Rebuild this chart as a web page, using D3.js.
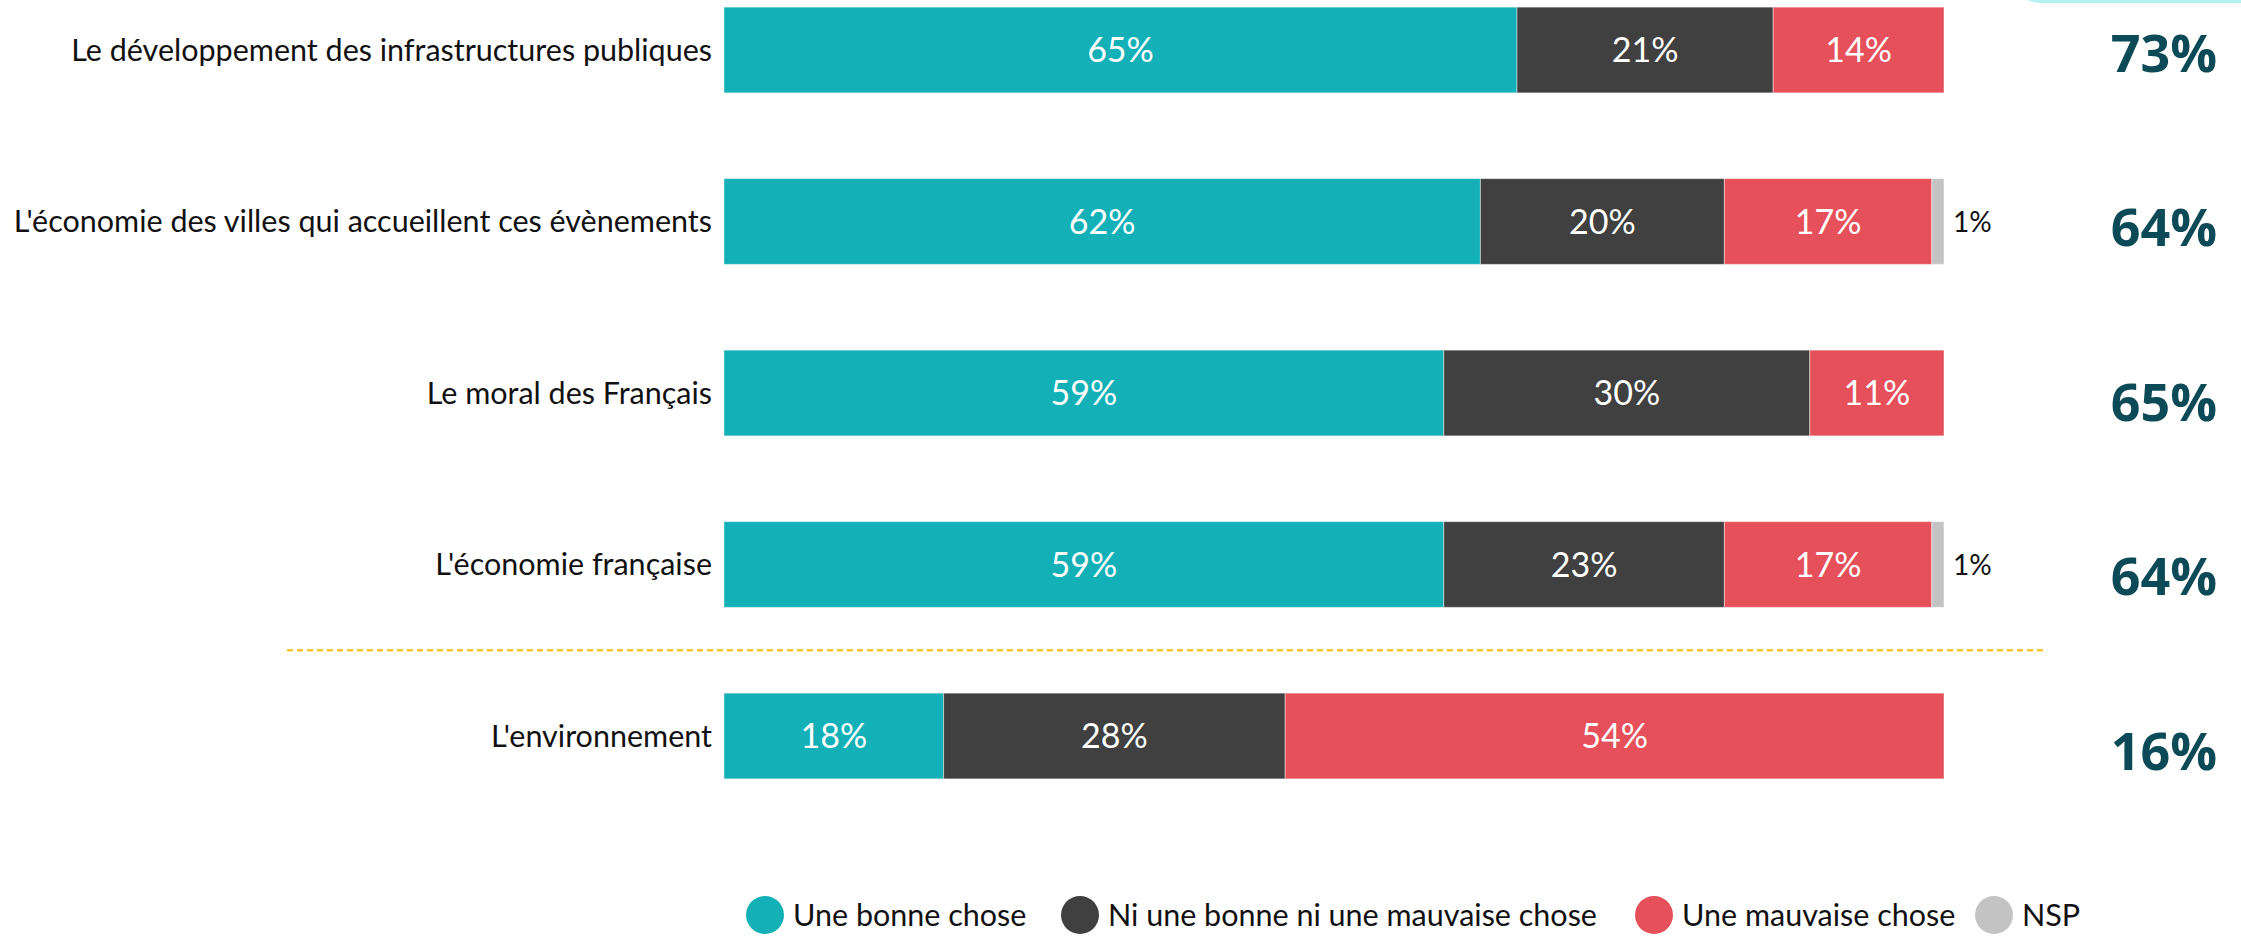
<!DOCTYPE html>
<html>
<head>
<meta charset="utf-8">
<script src="https://cdn.jsdelivr.net/npm/d3@7"></script>
<style>
  body { margin: 0; background: #fff; }
  svg { display: block; }
</style>
</head>
<body>
<svg id="chart" width="2241" height="938"></svg>
<script>
// Données
const categories = [
  "Le développement des infrastructures publiques",
  "L'économie des villes qui accueillent ces évènements",
  "Le moral des Français",
  "L'économie française",
  "L'environnement",
];
const seriesNames = ["Une bonne chose", "Ni une bonne ni une mauvaise chose", "Une mauvaise chose", "NSP"];
const bonne = [65, 62, 59, 59, 18];
const niNi = [21, 20, 30, 23, 28];
const mauvaise = [14, 17, 11, 17, 54];
const nsp = [0, 1, 0, 1, 0];
const totals = ["73%", "64%", "65%", "64%", "16%"];

const colors = ["#13b0b8", "#404040", "#e6505a", "#c3c3c3"];

const svg = d3.select("#chart");

const x = d3.scaleLinear().domain([0, 100]).range([724, 1944]);
const y = d3.scaleBand().domain(categories).range([-35.75, 821.75]).paddingInner(0.5).paddingOuter(0.25);
// les totaux à droite sont un peu décalés
const yTot = d3.scalePoint().domain(categories).range([53, 751]);

// forme cyan en haut à droite
svg.append("rect")
  .attr("x", 2012).attr("y", -60)
  .attr("width", 300).attr("height", 63)
  .attr("rx", 28)
  .attr("fill", "#b5f0f0");

const rows = categories.map((c, i) => {
  const vals = [bonne[i], niNi[i], mauvaise[i], nsp[i]];
  let acc = 0;
  return vals.map((v, k) => {
    const seg = { cat: c, k: k, v: v, x0: acc, x1: acc + v };
    acc += v;
    return seg;
  });
});

const segs = rows.flat().filter(d => d.v > 0);

svg.append("g")
  .selectAll("rect")
  .data(segs)
  .enter()
  .append("rect")
  .attr("x", d => x(d.x0))
  .attr("y", d => y(d.cat))
  .attr("width", d => x(d.x1) - x(d.x0))
  .attr("height", y.bandwidth())
  .attr("fill", d => colors[d.k])
  .attr("stroke", "rgba(255,255,255,0.45)")
  .attr("stroke-width", 1);

// valeurs dans les barres
svg.append("g")
  .selectAll("text")
  .data(segs.filter(d => d.k < 3))
  .enter()
  .append("text")
  .attr("x", d => (x(d.x0) + x(d.x1)) / 2)
  .attr("y", d => y(d.cat) + y.bandwidth() / 2)
  .attr("dy", "0.36em")
  .attr("text-anchor", "middle")
  .attr("font-family", "Lato, sans-serif")
  .attr("font-size", 34)
  .attr("fill", "#fff")
  .text(d => d.v + "%");

// NSP à l'extérieur
svg.append("g")
  .selectAll("text")
  .data(segs.filter(d => d.k === 3))
  .enter()
  .append("text")
  .attr("x", d => x(d.x1) + 9)
  .attr("y", d => y(d.cat) + y.bandwidth() / 2)
  .attr("dy", "0.36em")
  .attr("font-family", "Lato, sans-serif")
  .attr("font-size", 28)
  .attr("fill", "#111")
  .text(d => d.v + "%");

// libellés
svg.append("g")
  .selectAll("text")
  .data(categories)
  .enter()
  .append("text")
  .attr("x", 712)
  .attr("y", d => y(d) + y.bandwidth() / 2)
  .attr("dy", "0.36em")
  .attr("text-anchor", "end")
  .attr("font-family", "Lato, sans-serif")
  .attr("font-size", 30.5)
  .attr("fill", "#111")
  .text(d => d);

// totaux
svg.append("g")
  .selectAll("text")
  .data(categories)
  .enter()
  .append("text")
  .attr("x", 2164)
  .attr("y", d => yTot(d))
  .attr("dy", "0.36em")
  .attr("text-anchor", "middle")
  .attr("font-family", "'Open Sans', sans-serif")
  .attr("font-weight", 700)
  .attr("font-size", 52)
  .attr("fill", "#0c4a58")
  .text((d, i) => totals[i]);

// séparateur
const sepY = (y(categories[3]) + y.bandwidth() + y(categories[4])) / 2;
svg.append("line")
  .attr("x1", 287).attr("x2", 2047)
  .attr("y1", sepY).attr("y2", sepY)
  .attr("stroke", "#f5c630")
  .attr("stroke-width", 2.5)
  .attr("stroke-dasharray", "6,4");

// légende
const legendX = [765, 1080, 1654, 1994];
const legend = svg.append("g")
  .selectAll("g")
  .data(seriesNames)
  .enter()
  .append("g")
  .attr("transform", (d, i) => `translate(${legendX[i]},915)`);

legend.append("circle")
  .attr("r", 19)
  .attr("fill", (d, i) => colors[i]);

legend.append("text")
  .attr("x", 28)
  .attr("dy", "0.36em")
  .attr("font-family", "Lato, sans-serif")
  .attr("font-size", 30.5)
  .attr("fill", "#111")
  .text(d => d);
</script>
</body>
</html>
